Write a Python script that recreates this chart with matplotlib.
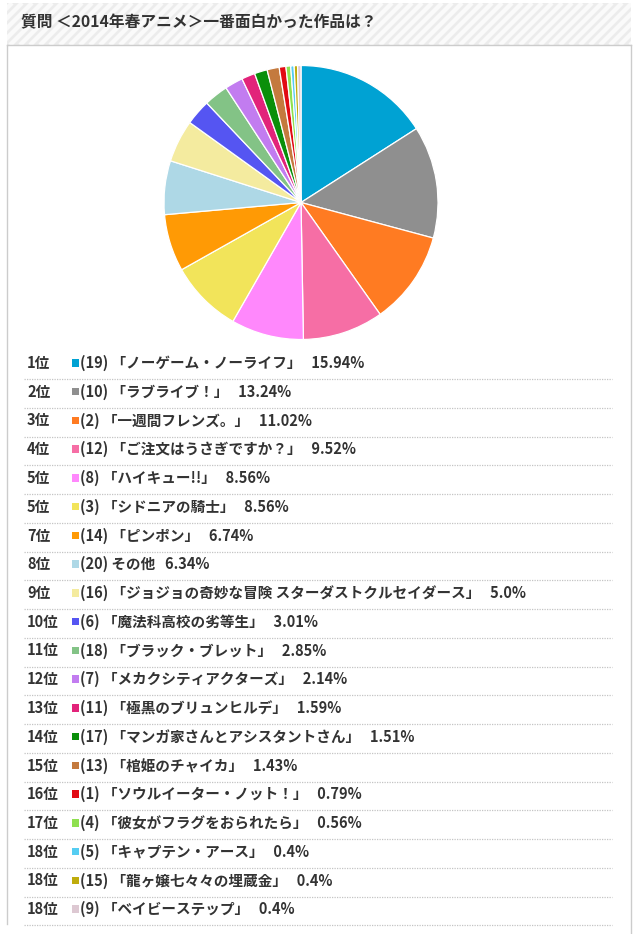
import matplotlib
matplotlib.use("Agg")
import matplotlib.pyplot as plt
from matplotlib.patches import Rectangle

plt.rcParams['font.family'] = ['Noto Sans CJK JP', 'DejaVu Sans']

title = "質問 ＜2014年春アニメ＞一番面白かった作品は？"
ranks = ["1位", "2位", "3位", "4位", "5位", "5位", "7位", "8位", "9位", "10位",
         "11位", "12位", "13位", "14位", "15位", "16位", "17位", "18位", "18位", "18位"]
numbers = [19, 10, 2, 12, 8, 3, 14, 20, 16, 6, 18, 7, 11, 17, 13, 1, 4, 5, 15, 9]
titles = ["「ノーゲーム・ノーライフ」", "「ラブライブ！」", "「一週間フレンズ。」",
          "「ご注文はうさぎですか？」", "「ハイキュー!!」", "「シドニアの騎士」",
          "「ピンポン」", "その他", "「ジョジョの奇妙な冒険 スターダストクルセイダース」",
          "「魔法科高校の劣等生」", "「ブラック・ブレット」", "「メカクシティアクターズ」",
          "「極黒のブリュンヒルデ」", "「マンガ家さんとアシスタントさん」", "「棺姫のチャイカ」",
          "「ソウルイーター・ノット！」", "「彼女がフラグをおられたら」", "「キャプテン・アース」",
          "「龍ヶ嬢七々々の埋蔵金」", "「ベイビーステップ」"]
values = [15.94, 13.24, 11.02, 9.52, 8.56, 8.56, 6.74, 6.34, 5.0, 3.01,
          2.85, 2.14, 1.59, 1.51, 1.43, 0.79, 0.56, 0.4, 0.4, 0.4]
pct_labels = ["15.94%", "13.24%", "11.02%", "9.52%", "8.56%", "8.56%", "6.74%", "6.34%",
              "5.0%", "3.01%", "2.85%", "2.14%", "1.59%", "1.51%", "1.43%", "0.79%",
              "0.56%", "0.4%", "0.4%", "0.4%"]
colors = ["#00a2d3", "#8f8f8f", "#ff7b22", "#f66ea5", "#ff88fc", "#f2e45a",
          "#ff9a05", "#aed8e6", "#f4eb9f", "#5555f2", "#83c386", "#c27cf0",
          "#e2237a", "#0a8f0a", "#c47a3e", "#e20a14", "#8fe04f", "#55cdf2",
          "#bfac0c", "#ddc8d2"]

W, H = 640, 934
fig = plt.figure(figsize=(W / 100, H / 100), dpi=100)
fig.patch.set_facecolor("white")

bg = fig.add_axes([0, 0, 1, 1])
bg.set_xlim(0, W)
bg.set_ylim(H, 0)
bg.axis("off")

# striped title band
band = Rectangle((7, 3), 624, 42, facecolor="#ececec", edgecolor="none", zorder=0)
bg.add_patch(band)
for x0 in range(-60, 680, 10):
    ln, = bg.plot([x0, x0 + 42], [45, 3], color="#fafafa", lw=3.2, zorder=1,
                  solid_capstyle="butt")
    ln.set_clip_path(band)

bg.text(21, 22, title, fontsize=11.3, fontweight="bold", color="#333333",
        va="center", ha="left", zorder=3)

# box
bg.plot([7, 631], [45, 45], color="#cccccc", lw=1, zorder=2)
bg.plot([7, 7], [45, 924], color="#cccccc", lw=1, zorder=2)
bg.plot([631, 631], [45, 934], color="#cccccc", lw=1, zorder=2)

# legend rows
y0, dy = 363, 28.75
for i in range(len(values)):
    y = y0 + i * dy
    bg.text(27, y, ranks[i], fontsize=10.5, fontweight="bold", color="#333333",
            va="center", ha="left")
    bg.add_patch(Rectangle((71.5, y - 4), 7.5, 7.5, facecolor=colors[i],
                           edgecolor="none"))
    label = f"({numbers[i]}) {titles[i]}   {pct_labels[i]}"
    bg.text(80, y, label, fontsize=10.5, fontweight="bold", color="#333333",
            va="center", ha="left")
    bg.plot([24, 612], [y + 16, y + 16], color="#c4c4c4", lw=0.9,
            linestyle=(0, (1, 1)))

# pie
cx, cy, r = 301, 202.5, 137
pax = fig.add_axes([(cx - r) / W, (H - cy - r) / H, 2 * r / W, 2 * r / H])
pax.pie(values, colors=colors, startangle=90, counterclock=False,
        wedgeprops=dict(edgecolor="white", linewidth=0.9))
pax.set_xlim(-1, 1)
pax.set_ylim(-1, 1)
pax.set_aspect("equal")
pax.axis("off")

fig.savefig("out.png", dpi=100, facecolor="white")
